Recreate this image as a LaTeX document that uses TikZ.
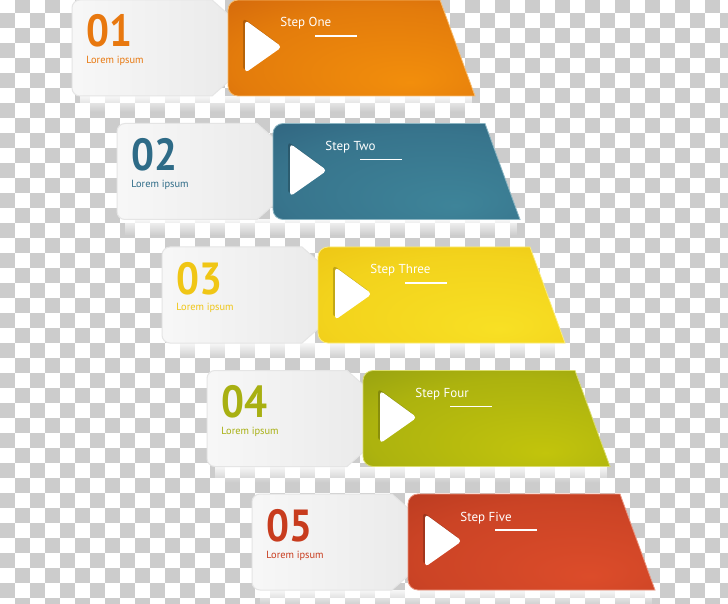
\documentclass[tikz,border=0pt]{standalone}
\usepackage{fontspec}
\newfontfamily\stepfont{PT Sans}
\newfontfamily\numfont[FakeStretch=0.9]{PT Sans}
\usetikzlibrary{fadings}

\definecolor{chk}{HTML}{CCCCCC}
\definecolor{oneD}{HTML}{C0500C}   \definecolor{oneL}{HTML}{F28E0C}   \definecolor{oneN}{HTML}{E8780F}
\definecolor{twoD}{HTML}{28506F}   \definecolor{twoL}{HTML}{3E8499}   \definecolor{twoN}{HTML}{2E6B87}
\definecolor{threeD}{HTML}{E6B40A} \definecolor{threeL}{HTML}{F8E024} \definecolor{threeN}{HTML}{F0C615}
\definecolor{fourD}{HTML}{7A8A14}  \definecolor{fourL}{HTML}{C2C40C}  \definecolor{fourN}{HTML}{A8B012}
\definecolor{fiveD}{HTML}{A4301A}  \definecolor{fiveL}{HTML}{DC4C2A}  \definecolor{fiveN}{HTML}{C83C1E}

\colorlet{cardlight}{oneL}\colorlet{carddark}{oneD}
\pgfdeclareradialshading[cardlight,carddark]{cardglow}{\pgfpoint{12bp}{-18bp}}%
  {color(0bp)=(cardlight); color(30bp)=(cardlight!70!carddark); color(62bp)=(carddark)}

\tikzset{
  tab/.style={left color=white!97!black, right color=white!92!black, draw=black!10, line width=.5},
  card/.style={shading=cardglow, draw=cardlight!60!white, line width=.4},
  play/.style={fill=white, rounded corners=2},
  playshade/.style={fill=black, opacity=.2, rounded corners=2},
  num/.style={anchor=base west, inner sep=0, font=\numfont\bfseries\fontsize{22.5}{23}\selectfont},
  lorem/.style={anchor=base west, inner sep=0, font=\stepfont\fontsize{5.2}{6}\selectfont},
  steptext/.style={anchor=base west, inner sep=0, text=white, font=\stepfont\fontsize{6.5}{7}\selectfont},
  stepline/.style={white, line width=.6},
  lift/.style={fill=white, opacity=.85, path fading=south}
}

\begin{document}
\begin{tikzpicture}[x=.5pt, y=-.5pt]
\useasboundingbox (0,0) rectangle (728,604);
\clip (0,0) rectangle (728,604);

% checker background
\fill[white] (0,0) rectangle (728,604);
\foreach \i in {0,...,48}{\foreach \j in {0,...,40}{%
  \ifodd\numexpr\i+\j\relax \fill[chk] (15*\i,15*\j-2) rectangle ++(15,15);\fi}}

% step 1
\begin{scope}[shift={(0,0)}]
\colorlet{cardlight}{oneL}\colorlet{carddark}{oneD}
\fill[lift] (80,96) rectangle (472,112);
\path[tab] (150,0) [rounded corners=4] -- (72,0) -- (72,96) -- (150,96) [sharp corners] -- (212,96) -- (229,81) -- (229,15) -- (212,0) -- cycle;
\path[card] (440,0) [rounded corners=5] -- (228,0) -- (228,96) -- (300,96) [sharp corners] -- (475,96) -- cycle;
\path[playshade] (243,18) -- (280,45) -- (243,71) -- cycle;
\path[play] (245,20) -- (282,47) -- (245,73) -- cycle;
\node[num, text=oneN] (num1) at (86,47) {01};
\node[lorem, text=oneN] (lorem1) at (86,64) {Lorem ipsum};
\node[steptext] (step1) at (280,27) {Step One};
\draw[stepline] (315,36) -- (357,36);
\end{scope}

% step 2
\begin{scope}[shift={(45,123.5)}]
\colorlet{cardlight}{twoL}\colorlet{carddark}{twoD}
\fill[lift] (80,96) rectangle (472,112);
\path[tab] (150,0) [rounded corners=4] -- (72,0) -- (72,96) -- (150,96) [sharp corners] -- (212,96) -- (229,81) -- (229,15) -- (212,0) -- cycle;
\path[card] (440,0) [rounded corners=5] -- (228,0) -- (228,96) -- (300,96) [sharp corners] -- (475,96) -- cycle;
\path[playshade] (243,18) -- (280,45) -- (243,71) -- cycle;
\path[play] (245,20) -- (282,47) -- (245,73) -- cycle;
\node[num, text=twoN] (num2) at (86,47) {02};
\node[lorem, text=twoN] (lorem2) at (86,64) {Lorem ipsum};
\node[steptext] (step2) at (280,27) {Step Two};
\draw[stepline] (315,36) -- (357,36);
\end{scope}

% step 3
\begin{scope}[shift={(90,247)}]
\colorlet{cardlight}{threeL}\colorlet{carddark}{threeD}
\fill[lift] (80,96) rectangle (472,112);
\path[tab] (150,0) [rounded corners=4] -- (72,0) -- (72,96) -- (150,96) [sharp corners] -- (212,96) -- (229,81) -- (229,15) -- (212,0) -- cycle;
\path[card] (440,0) [rounded corners=5] -- (228,0) -- (228,96) -- (300,96) [sharp corners] -- (475,96) -- cycle;
\path[playshade] (243,18) -- (280,45) -- (243,71) -- cycle;
\path[play] (245,20) -- (282,47) -- (245,73) -- cycle;
\node[num, text=threeN] (num3) at (86,47) {03};
\node[lorem, text=threeN] (lorem3) at (86,64) {Lorem ipsum};
\node[steptext] (step3) at (280,27) {Step Three};
\draw[stepline] (315,36) -- (357,36);
\end{scope}

% step 4
\begin{scope}[shift={(135,370.5)}]
\colorlet{cardlight}{fourL}\colorlet{carddark}{fourD}
\fill[lift] (80,96) rectangle (472,112);
\path[tab] (150,0) [rounded corners=4] -- (72,0) -- (72,96) -- (150,96) [sharp corners] -- (212,96) -- (229,81) -- (229,15) -- (212,0) -- cycle;
\path[card] (440,0) [rounded corners=5] -- (228,0) -- (228,96) -- (300,96) [sharp corners] -- (475,96) -- cycle;
\path[playshade] (243,18) -- (280,45) -- (243,71) -- cycle;
\path[play] (245,20) -- (282,47) -- (245,73) -- cycle;
\node[num, text=fourN] (num4) at (86,47) {04};
\node[lorem, text=fourN] (lorem4) at (86,64) {Lorem ipsum};
\node[steptext] (step4) at (280,27) {Step Four};
\draw[stepline] (315,36) -- (357,36);
\end{scope}

% step 5
\begin{scope}[shift={(180,494)}]
\colorlet{cardlight}{fiveL}\colorlet{carddark}{fiveD}
\fill[lift] (80,96) rectangle (472,112);
\path[tab] (150,0) [rounded corners=4] -- (72,0) -- (72,96) -- (150,96) [sharp corners] -- (212,96) -- (229,81) -- (229,15) -- (212,0) -- cycle;
\path[card] (440,0) [rounded corners=5] -- (228,0) -- (228,96) -- (300,96) [sharp corners] -- (475,96) -- cycle;
\path[playshade] (243,18) -- (280,45) -- (243,71) -- cycle;
\path[play] (245,20) -- (282,47) -- (245,73) -- cycle;
\node[num, text=fiveN] (num5) at (86,47) {05};
\node[lorem, text=fiveN] (lorem5) at (86,64) {Lorem ipsum};
\node[steptext] (step5) at (280,27) {Step Five};
\draw[stepline] (315,36) -- (357,36);
\end{scope}
\end{tikzpicture}
\end{document}
